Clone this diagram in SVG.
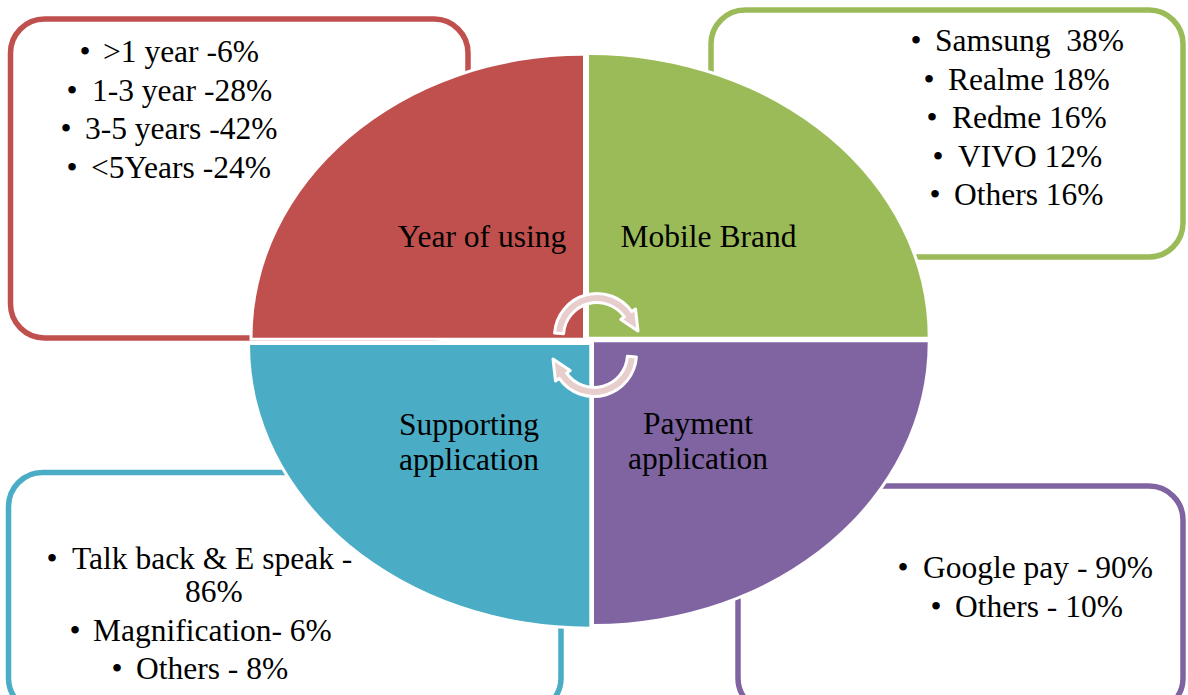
<svg xmlns="http://www.w3.org/2000/svg" width="1188" height="695" viewBox="0 0 1188 695">
  <style>
    .box { fill: #FFFFFF; stroke-width: 5.5; }
    .quad { stroke: #FFFFFF; stroke-width: 6; paint-order: stroke; }
    .t { font-family: "Liberation Serif", "Times New Roman", serif; font-size: 31.5px; fill: #000000; }
    .mid { text-anchor: middle; }
    .cyc { fill: #E8CDCD; stroke: #FFFFFF; stroke-width: 3; stroke-linejoin: round; }
  </style>
  <rect width="1188" height="695" fill="#FFFFFF"/>

  <!-- detail boxes behind the segmented circle -->
  <g id="box-years">
    <rect class="box" x="10.5" y="19" width="457.5" height="319" rx="34" ry="34" stroke="#C0504D"/>
    <text class="t"><tspan class="mid" x="85" y="62">•</tspan><tspan x="103" y="62">&gt;1 year -6%</tspan></text>
    <text class="t"><tspan class="mid" x="72" y="100.5">•</tspan><tspan x="92" y="100.5">1-3 year -28%</tspan></text>
    <text class="t"><tspan class="mid" x="66" y="139">•</tspan><tspan x="85" y="139">3-5 years -42%</tspan></text>
    <text class="t"><tspan class="mid" x="72" y="177.5">•</tspan><tspan x="91" y="177.5">&lt;5Years -24%</tspan></text>
  </g>

  <g id="box-brand">
    <rect class="box" x="711" y="10" width="472" height="247" rx="34" ry="34" stroke="#9BBB59"/>
    <text class="t" xml:space="preserve"><tspan class="mid" x="916" y="51">•</tspan><tspan x="935" y="51">Samsung  38%</tspan></text>
    <text class="t"><tspan class="mid" x="929" y="89.5">•</tspan><tspan x="948" y="89.5">Realme 18%</tspan></text>
    <text class="t"><tspan class="mid" x="932" y="128">•</tspan><tspan x="952" y="128">Redme 16%</tspan></text>
    <text class="t"><tspan class="mid" x="938" y="166.5">•</tspan><tspan x="958" y="166.5">VIVO 12%</tspan></text>
    <text class="t"><tspan class="mid" x="935" y="205">•</tspan><tspan x="954" y="205">Others 16%</tspan></text>
  </g>

  <g id="box-support">
    <rect class="box" x="8.5" y="472.5" width="552.5" height="239.5" rx="34" ry="34" stroke="#4BACC6"/>
    <text class="t"><tspan class="mid" x="52" y="569">•</tspan><tspan x="72" y="569">Talk back &amp; E speak -</tspan><tspan x="185" y="602">86%</tspan></text>
    <text class="t"><tspan class="mid" x="75" y="640.5">•</tspan><tspan x="93" y="640.5">Magnification- 6%</tspan></text>
    <text class="t"><tspan class="mid" x="117" y="678.5">•</tspan><tspan x="136" y="678.5">Others - 8%</tspan></text>
  </g>

  <g id="box-payment">
    <rect class="box" x="738" y="486" width="445" height="226" rx="34" ry="34" stroke="#8064A2"/>
    <text class="t"><tspan class="mid" x="903" y="578">•</tspan><tspan x="923" y="578">Google pay - 90%</tspan></text>
    <text class="t"><tspan class="mid" x="936" y="617">•</tspan><tspan x="955" y="617">Others - 10%</tspan></text>
  </g>

  <!-- segmented circle: four quarter ellipses with white gaps -->
  <g id="seg-year">
    <path class="quad" fill="#C0504D" d="M583,337.7 L252.5,337.7 A330.5,282 0 0 1 583,55.7 Z"/>
    <text class="t mid" x="482" y="247">Year of using</text>
  </g>
  <g id="seg-brand">
    <path class="quad" fill="#9BBB59" d="M589,336.7 L589,55 A338.7,281.7 0 0 1 927.7,336.7 Z"/>
    <text class="t mid" x="708.5" y="247">Mobile Brand</text>
  </g>
  <g id="seg-support">
    <path class="quad" fill="#4BACC6" d="M589.3,345 L589.3,626.7 A339.3,281.7 0 0 1 250,345 Z"/>
    <text class="t mid"><tspan x="469" y="434.5">Supporting</tspan><tspan x="469" y="470">application</tspan></text>
  </g>
  <g id="seg-payment">
    <path class="quad" fill="#8064A2" d="M594,342.3 L927.7,342.3 A333.7,281.7 0 0 1 594,624 Z"/>
    <text class="t mid"><tspan x="698" y="433.5">Payment</tspan><tspan x="698" y="469">application</tspan></text>
  </g>

  <!-- circular arrows in the centre -->
  <g id="connectors">
    <path id="cycle-top" class="cyc" d="M554.6,333 A42.5,42.5 0 0 1 631.8,311.6 L635.5,309 L638,331 L620.8,319.4 L624.4,316.8 A33.5,33.5 0 0 0 563.6,333.7 Z"/>
    <path id="cycle-bottom" class="cyc" transform="rotate(180 595.5 345)" d="M554.6,333 A42.5,42.5 0 0 1 631.8,311.6 L635.5,309 L638,331 L620.8,319.4 L624.4,316.8 A33.5,33.5 0 0 0 563.6,333.7 Z"/>
  </g>
</svg>
